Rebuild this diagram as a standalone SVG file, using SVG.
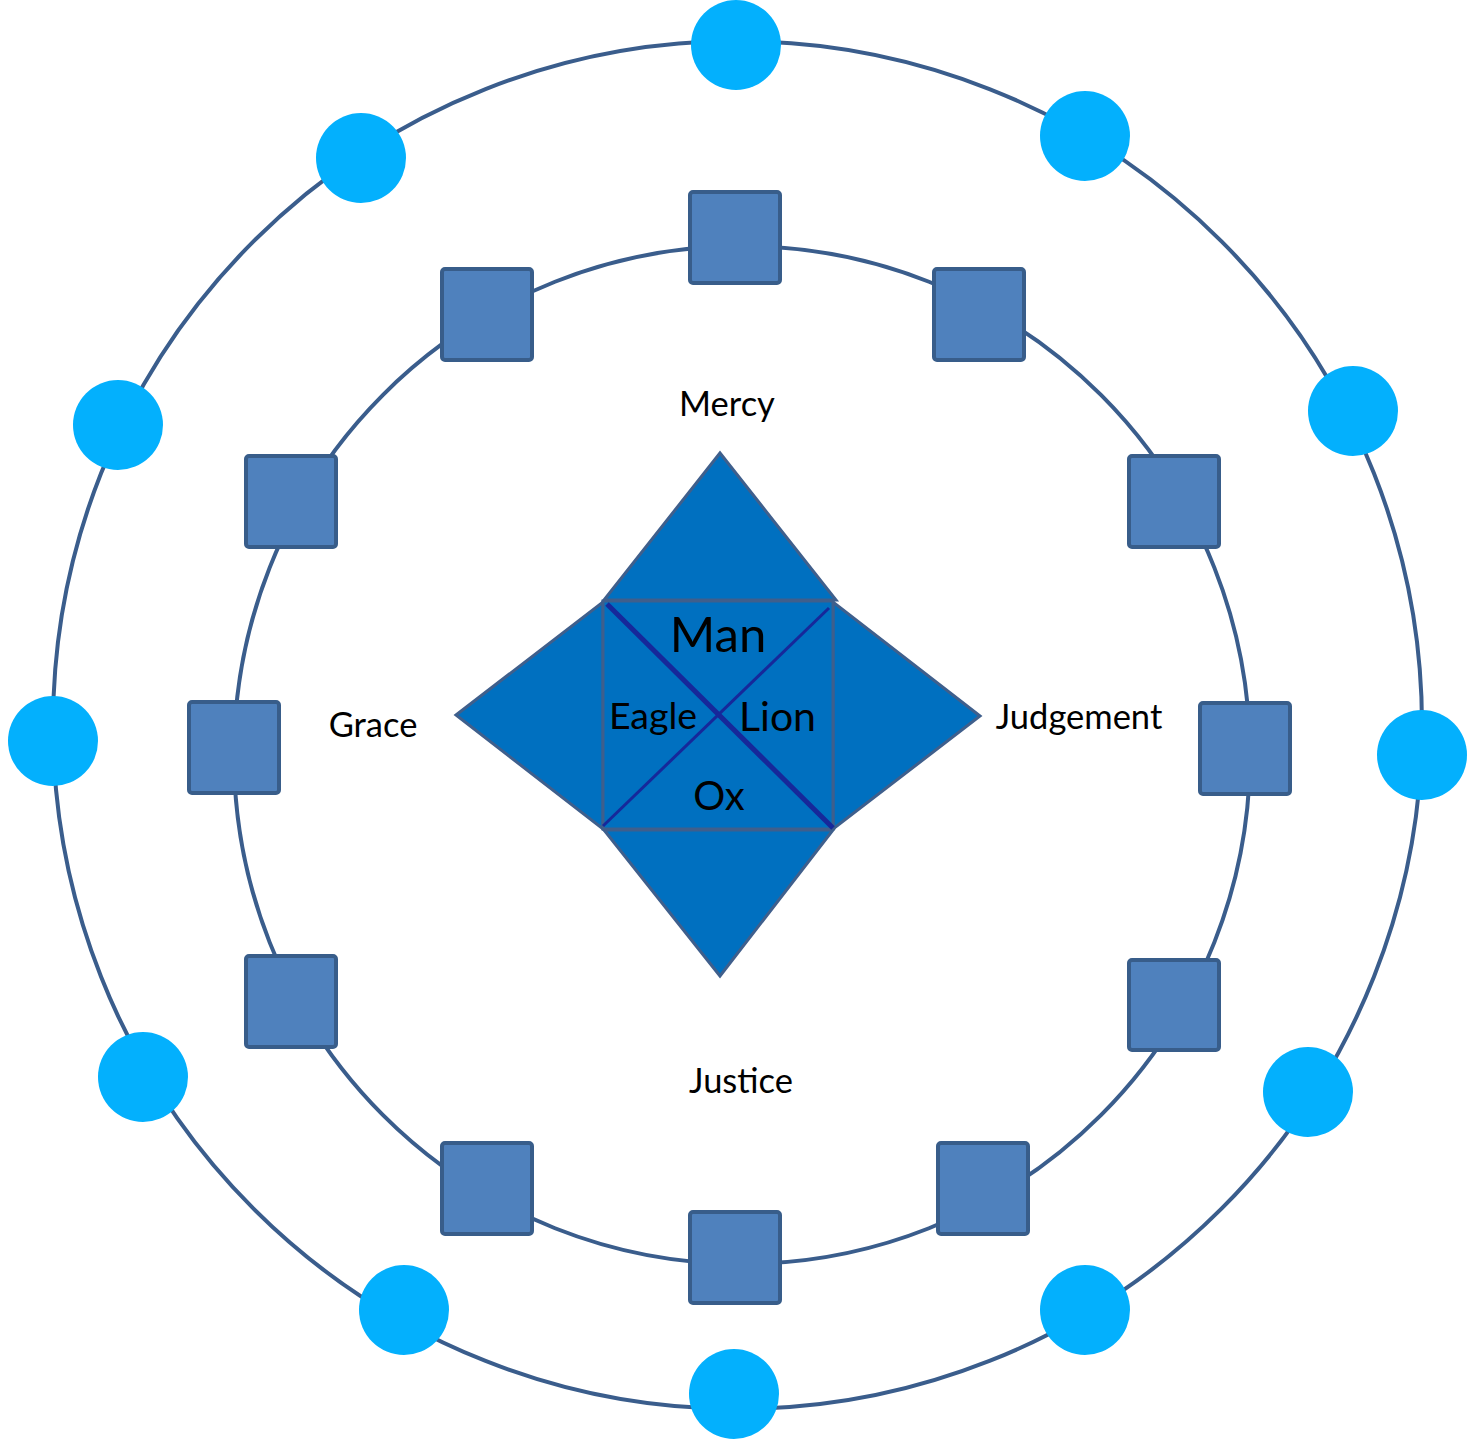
<svg xmlns="http://www.w3.org/2000/svg" width="1470" height="1440" viewBox="0 0 1470 1440">
<style>
.ring{fill:none;stroke:#3A5D8C;stroke-width:4}
.dot{fill:#03B0FD}
.sq{fill:#4F81BD;stroke:#385D8A;stroke-width:4}
.tri{fill:#0070C0;stroke:#3F5F8C;stroke-width:3;stroke-linejoin:miter}
.lbl{font-family:Lato,"Liberation Sans",sans-serif;font-size:34.5px;fill:#000;text-anchor:middle}
.big{font-family:Lato,"Liberation Sans",sans-serif;fill:#000;text-anchor:middle}
</style>
<rect width="1470" height="1440" fill="#fff"/>
<g id="connectors">
<ellipse class="ring" cx="737.5" cy="725" rx="684.5" ry="684"/>
<ellipse class="ring" cx="742" cy="755" rx="508" ry="509"/>
</g>
<g id="outer-nodes">
<circle id="c1" class="dot" cx="736" cy="45" r="45"/>
<circle id="c2" class="dot" cx="1085" cy="136" r="45"/>
<circle id="c3" class="dot" cx="1353" cy="411" r="45"/>
<circle id="c4" class="dot" cx="1422" cy="755" r="45"/>
<circle id="c5" class="dot" cx="1308" cy="1092" r="45"/>
<circle id="c6" class="dot" cx="1085" cy="1310" r="45"/>
<circle id="c7" class="dot" cx="734" cy="1394" r="45"/>
<circle id="c8" class="dot" cx="404" cy="1310" r="45"/>
<circle id="c9" class="dot" cx="143" cy="1077" r="45"/>
<circle id="c10" class="dot" cx="53" cy="741" r="45"/>
<circle id="c11" class="dot" cx="118" cy="425" r="45"/>
<circle id="c12" class="dot" cx="361" cy="158" r="45"/>
</g>
<g id="inner-nodes">
<rect id="s1" class="sq" x="690" y="192" width="90" height="91" rx="3"/>
<rect id="s2" class="sq" x="442" y="269" width="90" height="91" rx="3"/>
<rect id="s3" class="sq" x="934" y="269" width="90" height="91" rx="3"/>
<rect id="s4" class="sq" x="246" y="456" width="90" height="91" rx="3"/>
<rect id="s5" class="sq" x="1129" y="456" width="90" height="91" rx="3"/>
<rect id="s6" class="sq" x="189" y="702" width="90" height="91" rx="3"/>
<rect id="s7" class="sq" x="1200" y="703" width="90" height="91" rx="3"/>
<rect id="s8" class="sq" x="246" y="956" width="90" height="91" rx="3"/>
<rect id="s9" class="sq" x="1129" y="960" width="90" height="90" rx="3"/>
<rect id="s10" class="sq" x="442" y="1143" width="90" height="91" rx="3"/>
<rect id="s11" class="sq" x="938" y="1143" width="90" height="91" rx="3"/>
<rect id="s12" class="sq" x="690" y="1212" width="90" height="91" rx="3"/>
</g>
<g id="center">
<polygon class="tri" points="720,453 836,600 604,600"/>
<polygon class="tri" points="456,715 603,602 603,829"/>
<polygon class="tri" points="980,716 833,602 833,829"/>
<polygon class="tri" points="720,976 604,830 833,830"/>
<rect class="tri" x="603" y="601" width="230" height="228" stroke-width="4"/>
<line x1="607" y1="604" x2="833" y2="828" stroke="#16289A" stroke-width="5"/>
<line x1="829" y1="608" x2="603" y2="826" stroke="#16289A" stroke-width="3"/>
<text class="big" x="718" y="652" font-size="49">Man</text>
<text class="big" x="653" y="729" font-size="37.5">Eagle</text>
<text class="big" x="777.5" y="731" font-size="41">Lion</text>
<text class="big" x="719" y="810" font-size="40">Ox</text>
</g>
<g id="labels">
<text id="mercy" class="lbl" x="727" y="416">Mercy</text>
<text id="grace" class="lbl" x="373" y="737">Grace</text>
<text id="judgement" class="lbl" x="1079" y="729">Judgement</text>
<text id="justice" class="lbl" x="741" y="1093">Justice</text>
</g>
</svg>
